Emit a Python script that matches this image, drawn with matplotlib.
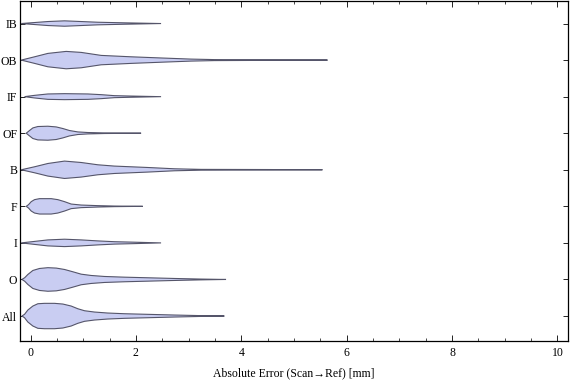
import matplotlib
matplotlib.use("Agg")
import matplotlib.pyplot as plt
import numpy as np

# Categories from bottom to top
categories = ["All", "O", "I", "F", "B", "OF", "IF", "OB", "IB"]

# Violin profiles: x positions (mm) and half-width (density, px units)
all_x = [-0.164, -0.114, -0.051, 0.044, 0.139, 0.265, 0.455, 0.613, 0.771, 0.897, 1.024, 1.213, 1.466, 1.782, 2.224, 2.730, 3.236, 3.678]
all_d = [0, 1.7, 6, 10, 12.3, 12.7, 12.7, 12.0, 10, 7.3, 5.3, 4, 3, 2.3, 1.7, 1, 0.4, 0]

o_x = [-0.164, -0.110, -0.051, 0.044, 0.170, 0.329, 0.487, 0.645, 0.803, 0.961, 1.150, 1.403, 1.782, 2.224, 2.730, 3.236, 3.710]
o_d = [0, 1.8, 5, 9, 11, 11.8, 11.4, 10, 7.7, 5.3, 4, 3, 2.3, 1.7, 1, 0.4, 0]

i_x = [-0.177, 0.076, 0.329, 0.645, 0.961, 1.277, 1.592, 1.908, 2.477]
i_d = [0, 1.5, 3, 3.7, 3, 2, 1.2, 0.8, 0]

f_x = [-0.082, -0.038, 0.013, 0.076, 0.171, 0.392, 0.518, 0.645, 0.771, 0.961, 1.277, 1.592, 2.130]
f_d = [0, 1.7, 4.7, 6.7, 7.7, 7.7, 6.7, 4.7, 2.3, 1.3, 0.7, 0.3, 0]

b_x = [-0.177, 0.076, 0.329, 0.645, 0.961, 1.277, 1.592, 2.224, 2.730, 3.236, 4.500, 5.540]
b_d = [0, 3, 6.3, 8.7, 7.3, 5.0, 3.7, 2.3, 1.0, 0.4, 0.25, 0]

of_x = [-0.082, -0.019, 0.044, 0.139, 0.329, 0.487, 0.613, 0.739, 0.897, 1.087, 1.403, 2.098]
of_d = [0, 2.7, 5.3, 6.7, 7, 6.3, 4.7, 2.7, 1.3, 0.7, 0.3, 0]

if_x = [-0.114, 0.076, 0.329, 0.645, 1.087, 1.340, 1.592, 1.908, 2.477]
if_d = [0, 1.3, 2.7, 3, 2.7, 2, 1.0, 0.6, 0]

ob_x = [-0.177, 0.076, 0.329, 0.676, 0.961, 1.340, 1.908, 2.540, 3.047, 3.488, 4.600, 5.636]
ob_d = [0, 3.3, 6.7, 8.7, 7.7, 4.7, 3.3, 2.0, 1.0, 0.5, 0.25, 0]

ib_x = [-0.177, 0.076, 0.329, 0.645, 0.961, 1.277, 1.782, 2.477]
ib_d = [0, 1, 2, 2.7, 2, 1.3, 0.7, 0]

profiles = [(all_x, all_d), (o_x, o_d), (i_x, i_d), (f_x, f_d), (b_x, b_d),
            (of_x, of_d), (if_x, if_d), (ob_x, ob_d), (ib_x, ib_d)]

xticks = [0, 2, 4, 6, 8, 10]
xlabel = "Absolute Error (Scan\u2192Ref) [mm]"

plt.rcParams['font.family'] = ['Liberation Serif', 'DejaVu Serif']

fig = plt.figure(figsize=(5.76, 3.81), dpi=100)
ax = fig.add_axes([20 / 576, 40 / 381, 548 / 576, 340.5 / 381])

scale = 1 / 36.6  # px -> category units
fill_c = "#c9cdf2"
edge_c = "#55556a"

for k, (xs, ds) in enumerate(profiles):
    pos = k + 1
    xs = np.asarray(xs)
    ds = np.asarray(ds) * scale
    px = np.concatenate([xs, xs[::-1]])
    py = np.concatenate([pos + ds, (pos - ds)[::-1]])
    ax.fill(px, py, facecolor=fill_c, edgecolor=edge_c, linewidth=0.8, zorder=2)

ax.set_xlim(-0.2, 10.2)
ax.set_ylim(0.317, 9.63)
ax.set_yticks(range(1, len(categories) + 1))
ax.set_yticklabels(categories)
ax.set_xticks(xticks)
ax.set_xticks(np.arange(0, 10.01, 0.5), minor=True)
ax.tick_params(axis='both', which='both', direction='in', top=True, right=True,
               labelsize=8.5, colors='black')
ax.tick_params(axis='x', which='major', length=4, width=0.6, pad=4)
ax.tick_params(axis='x', which='minor', length=2.2, width=0.5)
ax.tick_params(axis='y', which='major', length=3.5, width=0.6, pad=2)
ax.tick_params(axis='y', which='minor', left=False, right=False)
for s in ax.spines.values():
    s.set_linewidth(0.9)
ax.set_xlabel(xlabel, fontsize=8.5, labelpad=6)

fig.savefig("out.png", dpi=100)
